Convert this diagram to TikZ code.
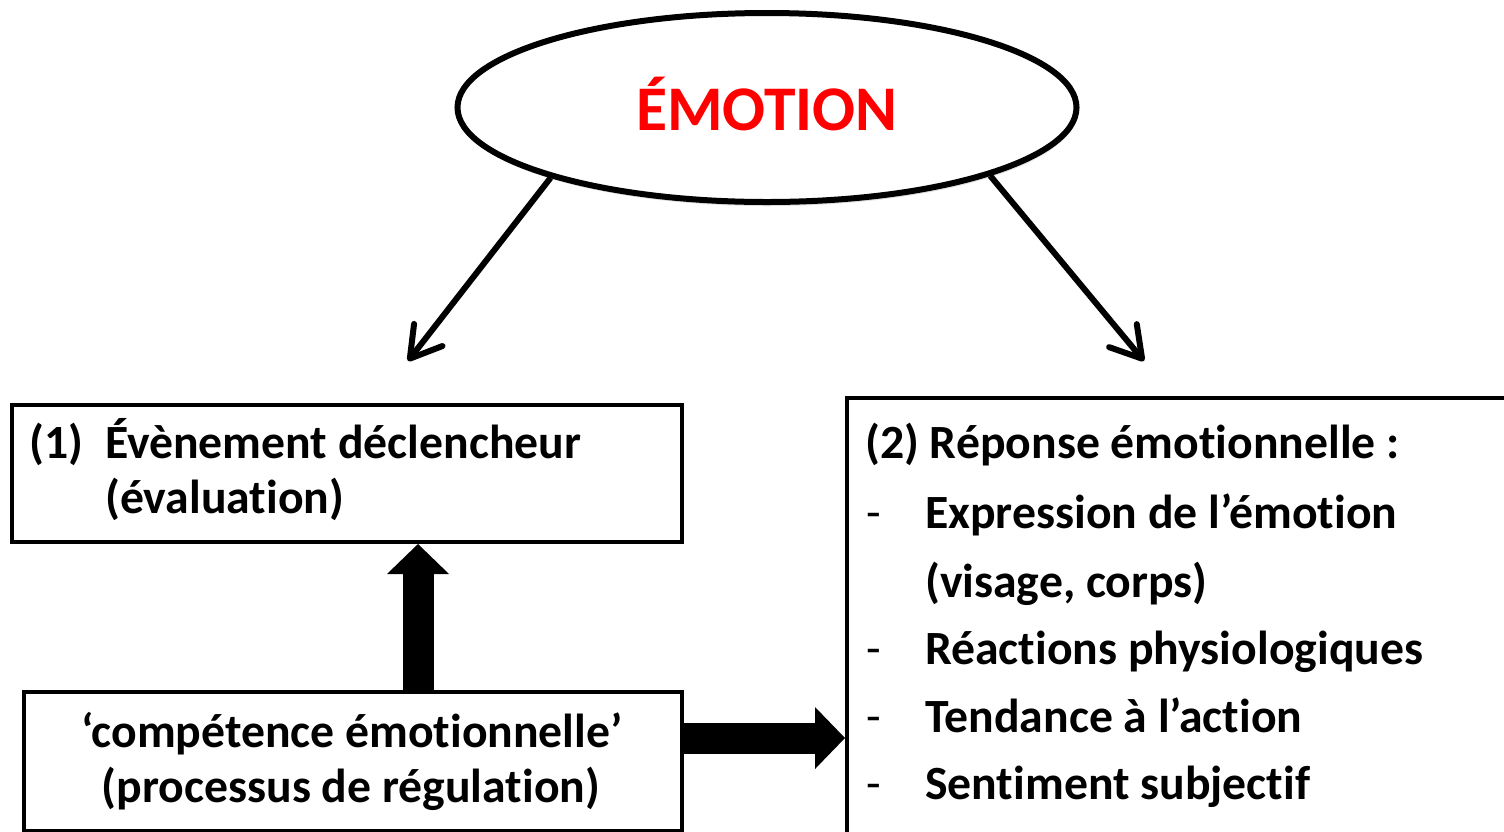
\documentclass[tikz,border=0pt]{standalone}
\usepackage{fontspec}
\setmainfont{Carlito}[Ligatures=NoCommon]
\usetikzlibrary{arrows.meta,shapes.geometric,shadows,calc}
\definecolor{emored}{RGB}{255,0,0}
\tikzset{
  box/.style={draw, line width=4pt, rectangle, inner sep=0pt, fill=white},
  txt/.style={inner sep=0pt, anchor=base west},
  ctxt/.style={inner sep=0pt, anchor=base},
  dashtxt/.style={inner sep=0pt, anchor=base west, font=\mdseries\fontsize{47.7}{56}\selectfont},
  thinarrow/.style={line width=6pt, -{Straight Barb[length=30pt,width=36pt,round]}},
  blockarrow/.style={line width=31pt, -{Triangle[length=30pt,width=62pt,line width=0pt]}}
}
\begin{document}
\begin{tikzpicture}[x=1pt,y=-1pt, font=\bfseries\fontsize{47.7}{56}\selectfont]
\useasboundingbox (0,0) rectangle (1504,831);
% ellipse
\node[ellipse, draw, fill=white, line width=6pt, minimum width=619pt, minimum height=189pt,
      inner sep=0pt, drop shadow={opacity=0.25, shadow xshift=1pt, shadow yshift=-4pt}]
      (emo) at (767,107.5) {};
\node[ctxt, text=emored, font=\bfseries\fontsize{63.6}{76}\selectfont] (emotxt) at (767,130) {ÉMOTION};
% boxes
\node[box, minimum width=670pt, minimum height=137pt, anchor=north west] (b1) at (10,403) {};
\node[box, minimum width=658pt, minimum height=139pt, anchor=north west] (b3) at (22,690) {};
\node[box, minimum width=667pt, minimum height=437pt, anchor=north west] (b2) at (845,396) {};
% targets of the thin arrows
\coordinate (t1) at (408,361);
\coordinate (t2) at (1144,361);
\draw[thinarrow] (emo.198) -- (t1);
\draw[thinarrow] (emo.-17) -- (t2);
% block arrows
\draw[blockarrow] ([xshift=65pt]b3.north) -- ([xshift=65pt]b3.north |- b1.south);
\draw[blockarrow] ([yshift=23.5pt]b3.east) -- ([yshift=23.5pt]b3.east -| b2.west);
% box 1 text
\node[txt] (n1) at (29,458) {(1)};
\node[txt] (l1a) at (105,458) {Évènement déclencheur};
\node[txt] (l1b) at (105,513) {(évaluation)};
% box 3 text
\node[ctxt] (l3a) at (352,747) {‘compétence émotionnelle’};
\node[ctxt] (l3b) at (351,802) {(processus de régulation)};
% box 2 text
\node[txt] (l2) at (865,458) {(2) Réponse émotionnelle :};
\node[dashtxt] (d1) at (866,528) {-};
\node[txt] (e1) at (925,528) {Expression de l’émotion};
\node[txt] (e1b) at (925,597) {(visage, corps)};
\node[dashtxt] (d2) at (866,664) {-};
\node[txt] (e2) at (925,664) {Réactions physiologiques};
\node[dashtxt] (d3) at (866,732) {-};
\node[txt] (e3) at (925,732) {Tendance à l’action};
\node[dashtxt] (d4) at (866,799) {-};
\node[txt] (e4) at (925,799) {Sentiment subjectif};
\end{tikzpicture}
\end{document}
